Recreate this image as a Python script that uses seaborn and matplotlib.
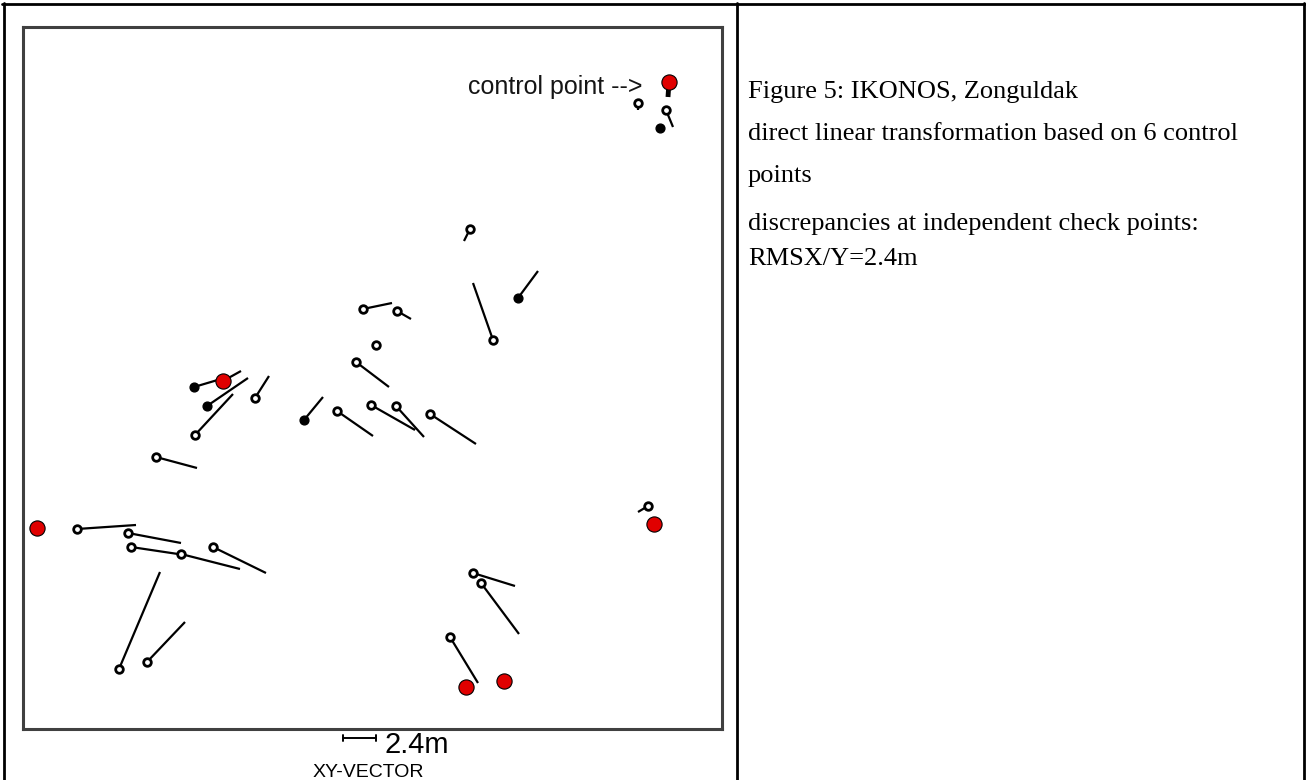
import numpy as np
import pandas as pd
import matplotlib
matplotlib.use("Agg")
import matplotlib.pyplot as plt
from matplotlib.lines import Line2D
import seaborn as sns

# check points: position and residual vector (plot units, y up)
check_x = [615, 643, 447, 340, 374, 353, 333, 314, 348, 373, 407, 470, 172, 232, 133,
           54, 105, 108, 158, 190, 96, 124, 625, 450, 458, 427]
check_y = [626, 619, 500, 420, 418, 384, 367, 318, 324, 323, 315, 389, 294, 331, 272,
           200, 196, 182, 175, 182, 60, 67, 223, 156, 146, 92]
check_dx = [0, 7, -6, 29, 14, 0, 33, 36, 44, 28, 46, -20, 38, 14, 41,
            59, 53, 47, 59, 53, 41, 38, -10, 42, 38, 28]
check_dy = [-7, -17, -12, 6, -8, 0, -25, -25, -25, -31, -30, 57, 41, 22, -11,
            4, -10, -7, -15, -26, 97, 40, -6, -13, -51, -46]

# filled check points
dark_x = [637, 495, 171, 184, 281]
dark_y = [601, 431, 342, 323, 309]
dark_dx = [0, 20, 27, 41, 19]
dark_dy = [0, 27, 8, 28, 23]

# control points
ctrl_x = [646, 200, 14, 631, 443, 481]
ctrl_y = [647, 348, 201, 205, 42, 48]
ctrl_dx = [-1, 18, 0, 0, 0, 0]
ctrl_dy = [-15, 10, 0, 0, 0, 0]

scale_len = 33  # 2.4 m in plot units

caption = [
    "Figure 5: IKONOS, Zonguldak",
    "direct linear transformation based on 6 control",
    "points",
    "discrepancies at independent check points:",
    "RMSX/Y=2.4m",
]
caption_base = [98, 140, 182, 230, 265]


def vectors(ax, x, y, dx, dy, lw=1.6):
    xs, ys = [], []
    for a, b, c, d in zip(x, y, dx, dy):
        if c == 0 and d == 0:
            continue
        xs += [a, a + c, np.nan]
        ys += [b, b + d, np.nan]
    ax.plot(xs, ys, color="black", lw=lw, solid_capstyle="butt", zorder=2)


if __name__ == "__main__":
    sns.set_style("white")
    W, H = 1306, 780
    fig = plt.figure(figsize=(W / 100, H / 100), dpi=100)

    ax = fig.add_axes([23 / W, (H - 729) / H, 699 / W, 702 / H])
    ax.set_xlim(0, 699)
    ax.set_ylim(0, 702)
    for s in ax.spines.values():
        s.set_color("#404040")
        s.set_linewidth(2.2)
    ax.set_xticks([])
    ax.set_yticks([])

    vectors(ax, check_x, check_y, check_dx, check_dy)
    vectors(ax, dark_x, dark_y, dark_dx, dark_dy)
    vectors(ax, ctrl_x[1:], ctrl_y[1:], ctrl_dx[1:], ctrl_dy[1:])
    vectors(ax, ctrl_x[:1], ctrl_y[:1], ctrl_dx[:1], ctrl_dy[:1], lw=3.5)

    sns.scatterplot(x=check_x, y=check_y, ax=ax, color="white", edgecolor="black",
                    linewidth=2.0, s=30, zorder=3)
    sns.scatterplot(x=dark_x, y=dark_y, ax=ax, color="black", edgecolor="black",
                    linewidth=1, s=40, zorder=3)
    sns.scatterplot(x=ctrl_x, y=ctrl_y, ax=ax, color="#e00000", edgecolor="black",
                    linewidth=0.8, s=120, zorder=4)

    ax.text(619, 642, "control point -->", ha="right", va="center",
            fontsize=18, family="Liberation Sans", color="#151515")

    # scale bar
    sx0, sy = 320, -9
    ax.plot([sx0, sx0 + scale_len], [sy, sy], color="black", lw=1.4, clip_on=False)
    ax.plot([sx0, sx0], [sy - 3, sy + 3], color="black", lw=1.4, clip_on=False)
    ax.plot([sx0 + scale_len] * 2, [sy - 3, sy + 3], color="black", lw=1.4, clip_on=False)
    ax.text(362, -24, "2.4m", ha="left", va="baseline", fontsize=21,
            family="Liberation Sans", color="black", clip_on=False)
    ax.text(290, -48, "XY-VECTOR", ha="left", va="baseline", fontsize=14,
            family="Liberation Sans", color="black", clip_on=False)

    # caption cell
    for line, b in zip(caption, caption_base):
        fig.text(748 / W, 1 - b / H, line, ha="left", va="baseline",
                 fontsize=19, family="Liberation Serif", color="black")

    # table borders
    def fline(x0, y0, x1, y1, lw=2):
        fig.add_artist(Line2D([x0 / W, x1 / W], [1 - y0 / H, 1 - y1 / H],
                              color="black", lw=lw, transform=fig.transFigure))

    fline(2, 3.5, 1305, 3.5)
    fline(3.5, 3, 3.5, 780)
    fline(737, 3, 737, 780)
    fline(1304, 3, 1304, 780)

    fig.savefig("out.png", dpi=100)
